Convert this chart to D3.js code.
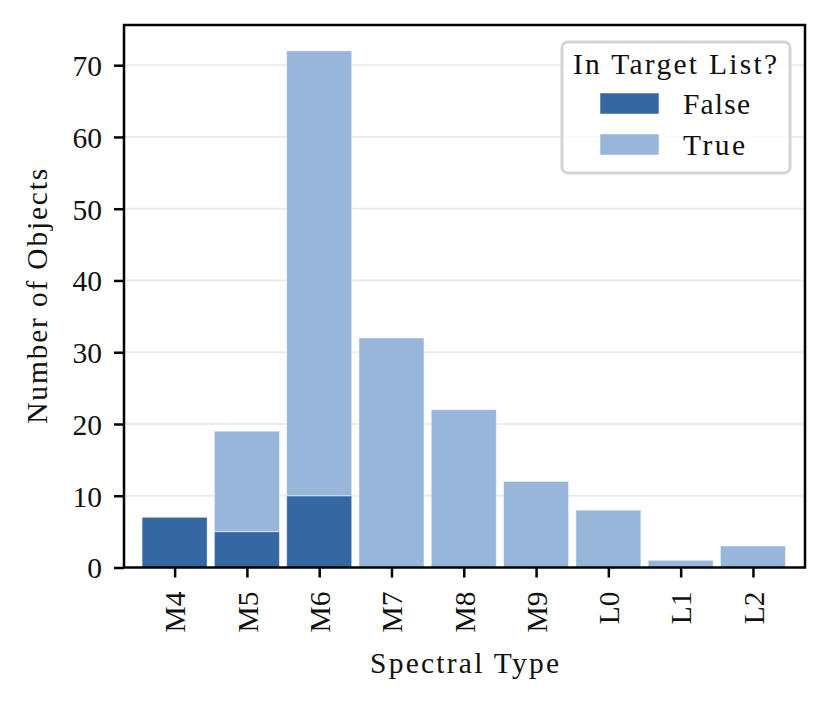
<!DOCTYPE html>
<html>
<head>
<meta charset="utf-8">
<script src="https://cdn.jsdelivr.net/npm/d3@7"></script>
<style>
  body { margin: 0; background: #fff; }
  text { font-family: "Liberation Serif", "Times New Roman", serif; fill: #111; }
</style>
</head>
<body>
<div id="chart"></div>
<script>
// data
const spectralTypes = ["M4", "M5", "M6", "M7", "M8", "M9", "L0", "L1", "L2"];
const countFalse = [7, 5, 10, 0, 0, 0, 0, 0, 0];
const countTrue = [0, 14, 62, 32, 22, 12, 8, 1, 3];
const yTicks = [0, 10, 20, 30, 40, 50, 60, 70];
const seriesNames = ["False", "True"];

drawChart();

function drawChart() {
  const W = 831, H = 705;
  const left = 124, right = 805, top = 25, bottom = 567.5;
  const fs = 29.5;

  const svg = d3.select("#chart").append("svg")
    .attr("width", W).attr("height", H);

  const colors = d3.scaleOrdinal()
    .domain(seriesNames)
    .range(["#3567a2", "#97b6d9"]);

  // x is linear over category index, like matplotlib
  const x = d3.scaleLinear().domain([-0.7, 8.72]).range([left, right]);
  const y = d3.scaleLinear().domain([0, 75.6]).range([bottom, top]);
  const barW = (x(1) - x(0)) * 0.9;

  // grid
  svg.append("g")
    .selectAll("line")
    .data(yTicks.filter(d => d > 0))
    .join("line")
      .attr("x1", left).attr("x2", right)
      .attr("y1", d => y(d)).attr("y2", d => y(d))
      .attr("stroke", "#ebebeb")
      .attr("stroke-width", 2);

  // stacked bars
  const rows = spectralTypes.map((s, i) => ({ type: s, i: i, False: countFalse[i], True: countTrue[i] }));
  const stacked = d3.stack().keys(seriesNames)(rows);

  svg.append("g")
    .selectAll("g")
    .data(stacked)
    .join("g")
      .attr("fill", d => colors(d.key))
      .selectAll("rect")
      .data(d => d.filter(v => v[1] - v[0] > 0))
      .join("rect")
        .attr("x", d => x(d.data.i) - barW / 2)
        .attr("width", barW)
        .attr("y", d => y(d[1]))
        .attr("height", d => y(d[0]) - y(d[1]))
        .attr("stroke", "#ffffff")
        .attr("stroke-opacity", 0.5)
        .attr("stroke-width", 1);

  // axes
  const xAxis = svg.append("g")
    .attr("transform", `translate(0,${bottom})`)
    .call(d3.axisBottom(x)
      .tickValues(d3.range(spectralTypes.length))
      .tickFormat(i => spectralTypes[i])
      .tickSize(10).tickPadding(14).tickSizeOuter(0));
  xAxis.select(".domain").remove();
  xAxis.selectAll(".tick line").attr("stroke", "#000").attr("stroke-width", 2.5);
  xAxis.selectAll(".tick text")
    .attr("font-size", fs)
    .attr("transform", "rotate(-90)")
    .attr("text-anchor", "end")
    .attr("dy", "0.35em")
    .attr("y", 0)
    .attr("x", -24);

  const yAxis = svg.append("g")
    .attr("transform", `translate(${left},0)`)
    .call(d3.axisLeft(y).tickValues(yTicks).tickSize(10).tickPadding(12).tickSizeOuter(0));
  yAxis.select(".domain").remove();
  yAxis.selectAll(".tick line").attr("stroke", "#000").attr("stroke-width", 2.5);
  yAxis.selectAll(".tick text").attr("font-size", fs).attr("dy", "0.35em");

  // frame
  svg.append("rect")
    .attr("x", left).attr("y", top)
    .attr("width", right - left).attr("height", bottom - top)
    .attr("fill", "none").attr("stroke", "#000").attr("stroke-width", 2.5);

  // axis titles
  svg.append("text")
    .attr("x", (left + right) / 2).attr("y", 673)
    .attr("text-anchor", "middle")
    .attr("font-size", fs)
    .attr("textLength", 189)
    .attr("lengthAdjust", "spacing")
    .text("Spectral Type");

  svg.append("text")
    .attr("transform", `translate(47,${(top + bottom) / 2}) rotate(-90)`)
    .attr("text-anchor", "middle")
    .attr("font-size", fs)
    .attr("textLength", 255)
    .attr("lengthAdjust", "spacing")
    .text("Number of Objects");

  // legend
  const lg = svg.append("g");
  lg.append("rect")
    .attr("x", 562).attr("y", 42).attr("width", 228).attr("height", 131)
    .attr("rx", 6)
    .attr("fill", "#fff").attr("fill-opacity", 0.8)
    .attr("stroke", "#d4d4d4").attr("stroke-width", 3);
  lg.append("text")
    .attr("x", 675).attr("y", 74)
    .attr("text-anchor", "middle")
    .attr("font-size", fs)
    .attr("textLength", 204)
    .attr("lengthAdjust", "spacing")
    .text("In Target List?");
  const labelW = [67, 62];
  seriesNames.forEach((name, k) => {
    const yy = 93 + k * 41;
    lg.append("rect")
      .attr("x", 600).attr("y", yy).attr("width", 59).attr("height", 21)
      .attr("fill", colors(name))
      .attr("stroke", "#fff").attr("stroke-opacity", 0.5);
    lg.append("text")
      .attr("x", 683).attr("y", yy + 21)
      .attr("font-size", fs)
      .attr("textLength", labelW[k])
      .attr("lengthAdjust", "spacing")
      .text(name);
  });
}
</script>
</body>
</html>
